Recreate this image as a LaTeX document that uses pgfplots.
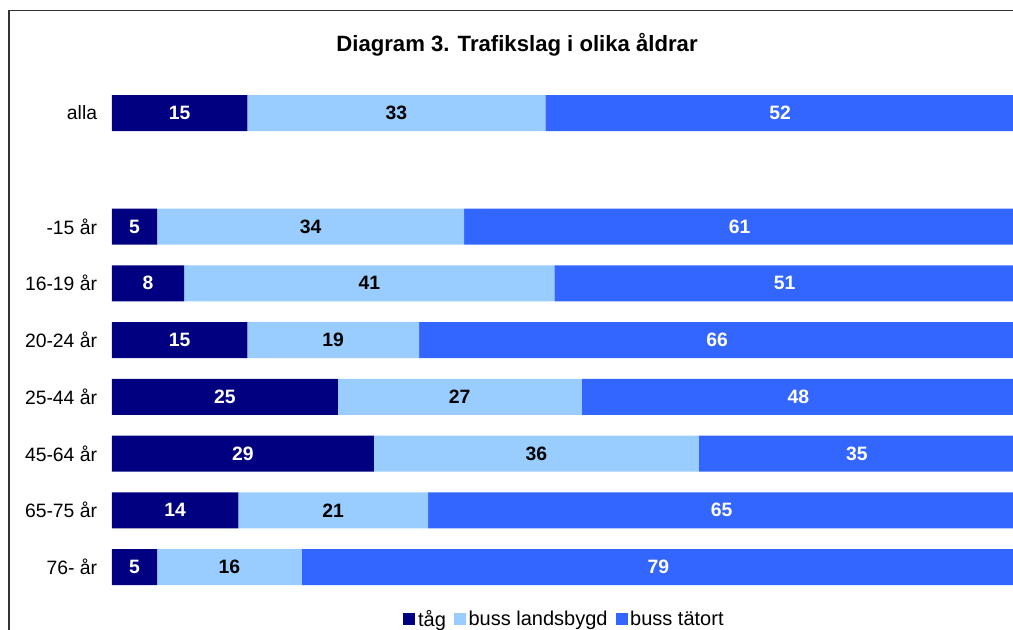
\documentclass[border=0pt]{standalone}
\usepackage{fontspec}
\setmainfont{Liberation Sans}
\usepackage{pgfplots}
\pgfplotsset{compat=1.18}

\definecolor{tag}{HTML}{000080}
\definecolor{land}{HTML}{99CCFF}
\definecolor{tatort}{HTML}{3366FF}
\definecolor{frame}{HTML}{333333}

\pgfplotsset{
  common/.style={
    at={(84pt,-446.55pt)}, anchor=south west,
    scale only axis,
    width=677.25pt, height=383.06pt,
    xmin=0, xmax=100, ymin=-0.5, ymax=8.5,
  },
  lbl/.style={only marks, mark=none, nodes near coords, point meta=explicit symbolic,
    nodes near coords align={center},
    every node near coord/.append style={font=\fontsize{14.5}{17}\selectfont\bfseries, text=#1}},
}

\begin{document}
\begin{tikzpicture}
\path[use as bounding box] (0,0) rectangle (759.75pt,-472.5pt);
\clip (0,0) rectangle (759.75pt,-472.5pt);

\draw[frame, line width=0.9pt] (6.75pt,-480pt) -- (6.75pt,-7.9pt) -- (780pt,-7.9pt);

\node[font=\fontsize{16.6}{20}\selectfont\bfseries] at (387.75pt,-33.75pt)
  {Diagram 3. Trafikslag i olika åldrar};

% bars
\begin{axis}[
  common,
  xbar stacked,
  bar width=27pt,
  axis line style={draw=none},
  xtick=\empty,
  ytick={0,1,2,3,4,5,6,8},
  yticklabels={76- år,65-75 år,45-64 år,25-44 år,20-24 år,16-19 år,-15 år,alla},
  major tick length=0pt,
  yticklabel style={font=\fontsize{14.5}{17}\selectfont, inner sep=0pt, xshift=-11pt},
  legend style={at={(0.5,0)}, anchor=center, xshift=1pt, yshift=-17.8pt, draw=none, fill=none,
    legend columns=-1, font=\fontsize{15}{17}\selectfont,
    /tikz/every even column/.append style={column sep=4pt}},
  legend image code/.code={\fill[#1] (-2pt,-4.5pt) rectangle (7pt,4.5pt);},
]
\addplot[fill=tag, draw=none] coordinates {
  (5,0) (14,1) (29,2) (25,3) (15,4) (8,5) (5,6) (15,8)};
\addplot[fill=land, draw=none] coordinates {
  (16,0) (21,1) (36,2) (27,3) (19,4) (41,5) (34,6) (33,8)};
\addplot[fill=tatort, draw=none] coordinates {
  (79,0) (65,1) (35,2) (48,3) (66,4) (51,5) (61,6) (52,8)};
\legend{tåg, buss landsbygd, buss tätort}
\end{axis}

% value labels, at the middle of each segment
\begin{axis}[common, hide axis]
\addplot[lbl=white] coordinates {
  (2.5,0) [5] (7,1) [14] (14.5,2) [29] (12.5,3) [25]
  (7.5,4) [15] (4,5) [8] (2.5,6) [5] (7.5,8) [15]};
\addplot[lbl=black] coordinates {
  (13,0) [16] (24.5,1) [21] (47,2) [36] (38.5,3) [27]
  (24.5,4) [19] (28.5,5) [41] (22,6) [34] (31.5,8) [33]};
\addplot[lbl=white] coordinates {
  (60.5,0) [79] (67.5,1) [65] (82.5,2) [35] (76,3) [48]
  (67,4) [66] (74.5,5) [51] (69.5,6) [61] (74,8) [52]};
\end{axis}
\end{tikzpicture}
\end{document}
